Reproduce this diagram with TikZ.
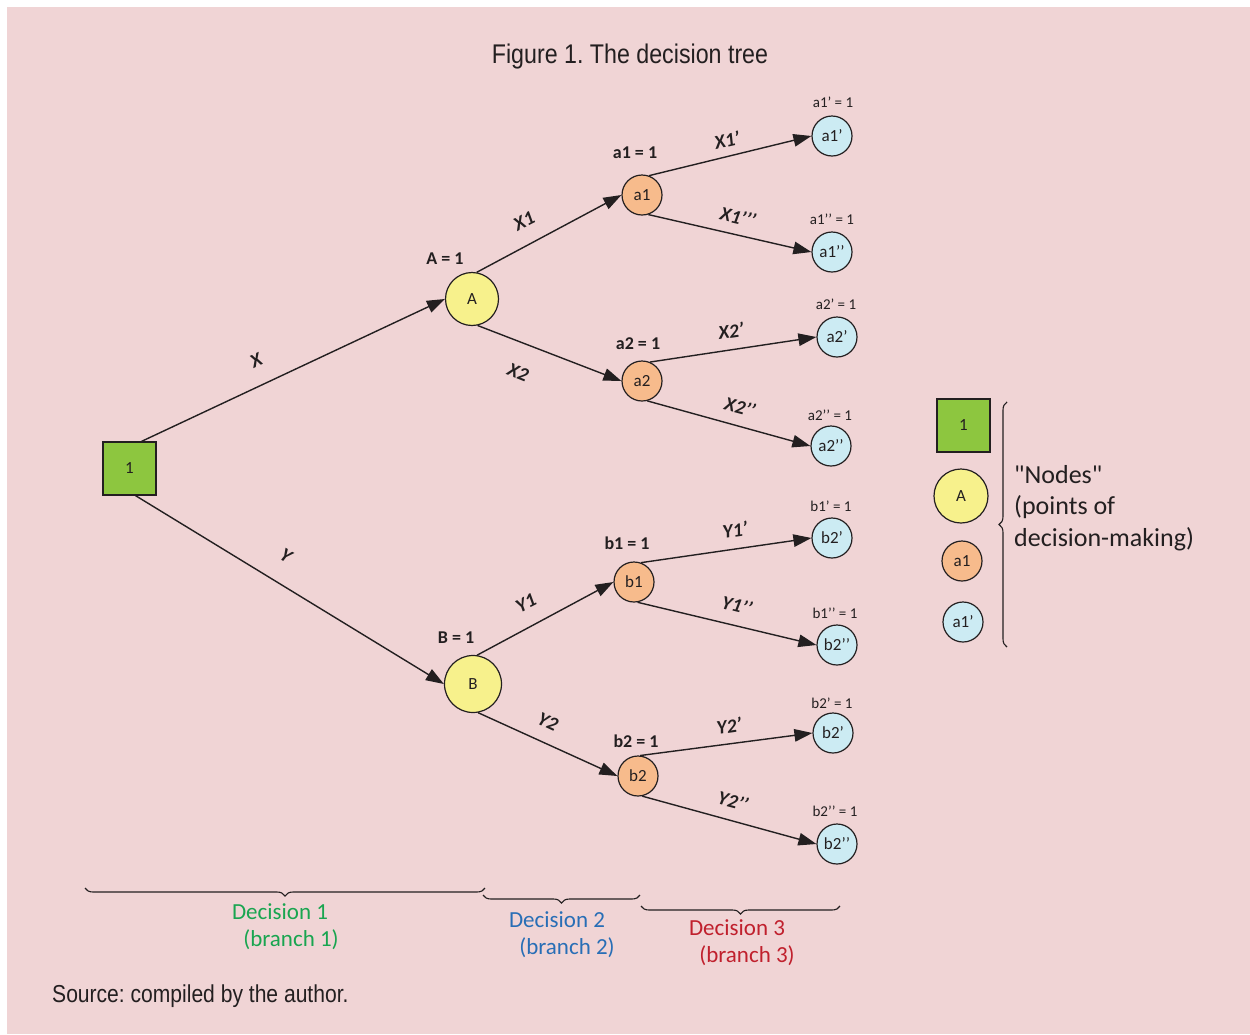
\documentclass[tikz,border=0pt]{standalone}
\usepackage{fontspec}
\setmainfont{Carlito}
\newfontfamily\carlplain{Carlito}
\newfontfamily\narrowfont[FakeStretch=0.86]{Liberation Sans}
\usetikzlibrary{arrows.meta,decorations.pathreplacing,calc}
\definecolor{bgpink}{RGB}{240,212,213}
\definecolor{ink}{RGB}{35,31,32}
\definecolor{sqgreen}{RGB}{141,198,63}
\definecolor{cyellow}{RGB}{247,241,140}
\definecolor{corange}{RGB}{247,187,140}
\definecolor{cblue}{RGB}{204,235,243}
\definecolor{dgreen}{RGB}{25,165,80}
\definecolor{dblue}{RGB}{40,110,182}
\definecolor{dred}{RGB}{192,32,45}
\tikzset{
  base/.style={draw=ink,line width=1.2pt,text=ink,inner sep=0pt,font={\fontsize{17}{20}\selectfont}},
  sqnode/.style={base,rectangle,fill=sqgreen,minimum size=53pt},
  bignode/.style={base,circle,fill=cyellow,minimum size=53pt},
  midnode/.style={base,circle,fill=corange,minimum size=40pt},
  leafnode/.style={base,circle,fill=cblue,minimum size=40pt},
  edge/.style={draw=ink,line width=1.4pt,-{Triangle[length=18pt,width=12.5pt]}},
  blab/.style={text=ink,inner sep=0pt,font={\fontsize{18}{20}\selectfont\bfseries}},
  elab/.style={text=ink,inner sep=0pt,font={\fontsize{19.5}{22}\selectfont\bfseries\itshape}},
  slab/.style={text=ink,inner sep=0pt,font={\fontsize{15}{18}\selectfont}},
  declab/.style={inner sep=0pt,font={\fontsize{23}{27}\selectfont}},
  bracestyle/.style={draw=ink,line width=1.1pt,decorate,decoration={brace,amplitude=8pt}}
}
\begin{document}
\frenchspacing
\begin{tikzpicture}[x=1pt,y=-1pt]
\fill[white] (0,0) rectangle (1250,1034);
\fill[bgpink] (7,7) rectangle (1250,1034);
\useasboundingbox (0,0) rectangle (1250,1034);

\node[text=ink,inner sep=0pt,font={\narrowfont\fontsize{27}{30}\selectfont}] (title) at (630,57) {Figure 1. The decision tree};

% tree nodes
\node[sqnode] (n1) at (129.5,468.5) {1};
\node[bignode] (A) at (472,299) {A};
\node[bignode,minimum size=57pt] (B) at (473,684) {B};
\node[midnode] (a1) at (642,195) {a1};
\node[midnode] (a2) at (642,381) {a2};
\node[midnode] (b1) at (634,582) {b1};
\node[midnode] (b2) at (638,776) {b2};
\node[leafnode] (a1p) at (832,136) {a1’};
\node[leafnode] (a1pp) at (832,252) {a1’’};
\node[leafnode] (a2p) at (837,337) {a2’};
\node[leafnode] (a2pp) at (831,446) {a2’’};
\node[leafnode] (b1p) at (832,538) {b2’};
\node[leafnode] (b1pp) at (837,645) {b2’’};
\node[leafnode] (b2p) at (833,733) {b2’};
\node[leafnode] (b2pp) at (837,844) {b2’’};

% edges
\draw[edge] ([xshift=12pt]n1.north) -- (A.west);
\draw[edge] ([xshift=6pt]n1.south) -- (B.west);
\draw[edge] (A.80) -- (a1.west);
\draw[edge] (A.-78) -- (a2.west);
\draw[edge] (B.82) -- (b1.west);
\draw[edge] (B.-80) -- (b2.west);
\draw[edge] (a1.70) -- (a1p.west);
\draw[edge] (a1.-72) -- (a1pp.west);
\draw[edge] (a2.67) -- (a2p.west);
\draw[edge] (a2.-75) -- (a2pp.west);
\draw[edge] (b1.70) -- (b1p.west);
\draw[edge] (b1.-80) -- (b1pp.west);
\draw[edge] (b2.84) -- (b2p.west);
\draw[edge] (b2.-78) -- (b2pp.west);

% bold value labels
\node[blab] (lA) at (445,259) {A = 1};
\node[blab] (lB) at (456,638) {B = 1};
\node[blab] (la1) at (635,153) {a1 = 1};
\node[blab] (la2) at (638,344) {a2 = 1};
\node[blab] (lb1) at (627,543) {b1 = 1};
\node[blab] (lb2) at (636,741) {b2 = 1};

% small leaf labels
\node[slab] (sa1p) at (833,102) {a1’ = 1};
\node[slab] (sa1pp) at (832,219) {a1’’ = 1};
\node[slab] (sa2p) at (836,304) {a2’ = 1};
\node[slab] (sa2pp) at (830,415) {a2’’ = 1};
\node[slab] (sb1p) at (831,506) {b1’ = 1};
\node[slab] (sb1pp) at (835,613) {b1’’ = 1};
\node[slab] (sb2p) at (832,703) {b2’ = 1};
\node[slab] (sb2pp) at (835,811) {b2’’ = 1};

% edge labels
\node[elab,rotate=25] (eX) at (256,360) {X};
\node[elab,rotate=-31] (eY) at (286,556) {Y};
\node[elab,rotate=27] (eX1) at (524,221) {X1};
\node[elab,rotate=-22] (eX2) at (518,372) {X2};
\node[elab,rotate=13] (eX1p) at (727,140) {X1’};
\node[elab,rotate=-13] (eX1pp) at (738,217) {X1’’’};
\node[elab,rotate=8] (eX2p) at (731,331) {X2’};
\node[elab,rotate=-15] (eX2pp) at (740,407) {X2’’};
\node[elab,rotate=27] (eY1) at (526,603) {Y1};
\node[elab,rotate=-25] (eY2) at (548,722) {Y2};
\node[elab,rotate=8] (eY1p) at (735,530) {Y1’};
\node[elab,rotate=-14] (eY1pp) at (737,605) {Y1’’};
\node[elab,rotate=8] (eY2p) at (729,726) {Y2’};
\node[elab,rotate=-15] (eY2pp) at (733,801) {Y2’’};

% legend
\node[sqnode] (g1) at (963.5,425.5) {1};
\node[bignode,minimum size=54pt] (gA) at (961,496) {A};
\node[midnode] (ga1) at (962,561) {a1};
\node[leafnode] (ga1p) at (963,622) {a1’};
\coordinate (gbt) at (1007,402);
\coordinate (gbb) at (1007,647);
\draw[bracestyle] (gbb) -- (gbt);
\node[text=ink,inner sep=0pt,anchor=west,align=left,font={\carlplain\fontsize{26}{31.5}\selectfont}] (gtext) at (1014,508) {"Nodes"\\(points of\\decision-making)};

% bottom braces
\coordinate (d1l) at (85,888);
\coordinate (d1r) at (485,888);
\coordinate (d2l) at (483,895);
\coordinate (d2r) at (640,895);
\coordinate (d3l) at (641,906);
\coordinate (d3r) at (840,906);
\draw[bracestyle] (d1r) -- (d1l);
\draw[bracestyle] (d2r) -- (d2l);
\draw[bracestyle] (d3r) -- (d3l);
\node[declab,text=dgreen] (dec1) at (280,912) {Decision 1};
\node[declab,text=dgreen] (br1) at (291,940) {(branch 1)};
\node[declab,text=dblue] (dec2) at (557,920) {Decision 2};
\node[declab,text=dblue] (br2) at (567,948) {(branch 2)};
\node[declab,text=dred] (dec3) at (737,928) {Decision 3};
\node[declab,text=dred] (br3) at (747,956) {(branch 3)};

\node[text=ink,inner sep=0pt,anchor=west,font={\narrowfont\fontsize{24.5}{28}\selectfont}] (src) at (52,996) {Source: compiled by the author.};
\end{tikzpicture}
\end{document}
